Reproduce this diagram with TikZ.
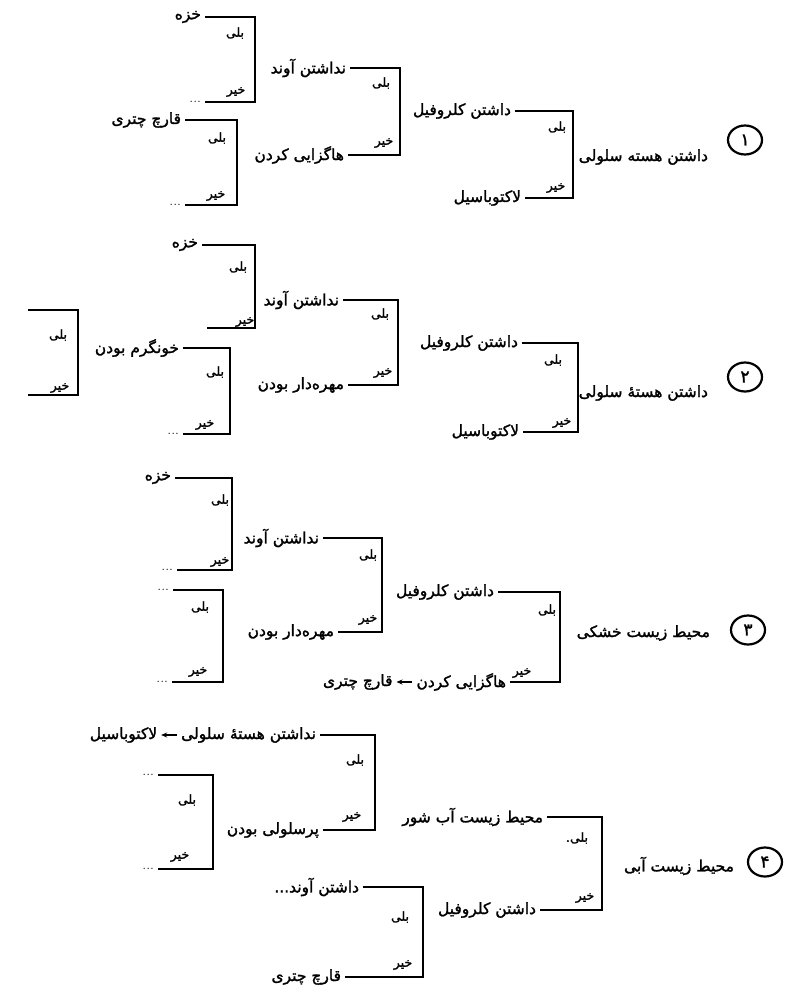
\documentclass[tikz,border=0pt]{standalone}
\usepackage{fontspec}
\TeXXeTstate=1
\newfontfamily\arabicfont[Script=Arabic,FakeBold=1.6]{DejaVu Sans}
\usetikzlibrary{shapes.geometric,arrows.meta}
\newcommand{\prs}[1]{{\arabicfont\beginR #1\endR}}
\tikzset{
 br/.style={line width=2.2pt},
 lbl/.style={font=\fontsize{15.5}{17}\selectfont, inner sep=1pt, outer sep=3pt, anchor=east},
 yn/.style={font=\fontsize{12.5}{14}\selectfont, inner sep=0pt},
 num/.style={draw, ellipse, line width=2.2pt, minimum width=34pt, minimum height=29pt, inner sep=0pt, font=\fontsize{17}{19}\selectfont},
 arr/.style={line width=1.8pt, -{Stealth[length=6pt,width=5pt]}},
}
\begin{document}
\begin{tikzpicture}[x=1pt,y=-1pt]
\fill[white] (0,0) rectangle (797,985);
\useasboundingbox (0,0) rectangle (797,985);

% ================= Diagram 1
\node[num] (c1) at (745,140) {\prs{۱}};
\node[lbl] (r1) at (712,157) {\prs{داشتن هسته سلولی}};
\coordinate (A1) at (573,150);
\node[lbl] (kl1) at (515,111) {\prs{داشتن کلروفیل}};
\node[lbl] (lak1) at (525,198) {\prs{لاکتوباسیل}};
\draw[br] (kl1.east) -| (A1) |- (lak1.east);
\node[yn] at (557,127) {\prs{بلی}};
\node[yn] at (556,188) {\prs{خیر}};

\coordinate (B1) at (400,110);
\node[lbl] (na1) at (350,68) {\prs{نداشتن آوند}};
\node[lbl] (hag1) at (348,155) {\prs{هاگزایی کردن}};
\draw[br] (na1.east) -| (B1) |- (hag1.east);
\node[yn] at (381,83) {\prs{بلی}};
\node[yn] at (384,143) {\prs{خیر}};

\coordinate (C1) at (255,60);
\node[lbl] (kh1) at (205,17) {\prs{خزه}};
\node[lbl] (d1a) at (205,102) {...};
\draw[br] (kh1.east) -| (C1) |- (d1a.east);
\node[yn] at (235,33) {\prs{بلی}};
\node[yn] at (236,92) {\prs{خیر}};

\coordinate (D1) at (237,160);
\node[lbl] (qa1) at (185,120) {\prs{قارچ چتری}};
\node[lbl] (d1b) at (185,205) {...};
\draw[br] (qa1.east) -| (D1) |- (d1b.east);
\node[yn] at (217,138) {\prs{بلی}};
\node[yn] at (216,196) {\prs{خیر}};

% ================= Diagram 2
\node[num] (c2) at (745,377) {\prs{۲}};
\node[lbl] (r2) at (712,393) {\prs{داشتن هستهٔ سلولی}};
\coordinate (A2) at (578,390);
\node[lbl] (kl2) at (522,343) {\prs{داشتن کلروفیل}};
\node[lbl] (lak2) at (523,432) {\prs{لاکتوباسیل}};
\draw[br] (kl2.east) -| (A2) |- (lak2.east);
\node[yn] at (553,360) {\prs{بلی}};
\node[yn] at (562,423) {\prs{خیر}};

\coordinate (B2) at (398,340);
\node[lbl] (na2) at (343,300) {\prs{نداشتن آوند}};
\node[lbl] (meh2) at (348,385) {\prs{مهره‌دار بودن}};
\draw[br] (na2.east) -| (B2) |- (meh2.east);
\node[yn] at (380,314) {\prs{بلی}};
\node[yn] at (383,373) {\prs{خیر}};

\coordinate (C2) at (255,290);
\node[lbl] (kh2) at (202,245) {\prs{خزه}};
\coordinate (c2b) at (207,328);
\draw[br] (kh2.east) -| (C2) |- (c2b);
\node[yn] at (238,267) {\prs{بلی}};
\node[yn] at (245,322) {\prs{خیر}};

\coordinate (D2) at (230,390);
\node[lbl] (kg2) at (183,348) {\prs{خونگرم بودن}};
\node[lbl] (d2) at (183,434) {...};
\draw[br] (kg2.east) -| (D2) |- (d2.east);
\node[yn] at (215,372) {\prs{بلی}};
\node[yn] at (205,425) {\prs{خیر}};

\coordinate (E2t) at (28,310);
\coordinate (E2b) at (28,395);
\coordinate (E2) at (78,350);
\draw[br] (E2t) -| (E2) |- (E2b);
\node[yn] at (58,335) {\prs{بلی}};
\node[yn] at (60,388) {\prs{خیر}};

% ================= Diagram 3
\node[num] (c3) at (748,630) {\prs{۳}};
\node[lbl] (r3) at (714,633) {\prs{محیط زیست خشکی}};
\coordinate (A3) at (560,630);
\node[lbl] (kl3) at (498,592) {\prs{داشتن کلروفیل}};
\node[lbl] (hag3) at (510,682) {\prs{هاگزایی کردن}};
\node[lbl] (qa3) at ([xshift=-16pt]hag3.west) {\prs{قارچ چتری}};
\draw[br] (kl3.east) -| (A3) |- (hag3.east);
\draw[arr] (hag3.west) -- (qa3.east);
\node[yn] at (547,610) {\prs{بلی}};
\node[yn] at (522,673) {\prs{خیر}};

\coordinate (B3) at (382,585);
\node[lbl] (na3) at (323,538) {\prs{نداشتن آوند}};
\node[lbl] (meh3) at (338,632) {\prs{مهره‌دار بودن}};
\draw[br] (na3.east) -| (B3) |- (meh3.east);
\node[yn] at (368,555) {\prs{بلی}};
\node[yn] at (368,620) {\prs{خیر}};

\coordinate (C3) at (232,520);
\node[lbl] (kh3) at (175,478) {\prs{خزه}};
\node[lbl] (d3a) at (177,570) {...};
\draw[br] (kh3.east) -| (C3) |- (d3a.east);
\node[yn] at (220,500) {\prs{بلی}};
\node[yn] at (220,562) {\prs{خیر}};

\coordinate (D3) at (223,630);
\node[lbl] (d3b) at (173,590) {...};
\node[lbl] (d3c) at (172,682) {...};
\draw[br] (d3b.east) -| (D3) |- (d3c.east);
\node[yn] at (200,607) {\prs{بلی}};
\node[yn] at (198,672) {\prs{خیر}};

% ================= Diagram 4
\node[num] (c4) at (765,862) {\prs{۴}};
\node[lbl] (r4) at (738,866) {\prs{محیط زیست آبی}};
\coordinate (A4) at (602,860);
\node[lbl] (ash4) at (547,817) {\prs{محیط زیست آب شور}};
\node[lbl] (kl4) at (540,910) {\prs{داشتن کلروفیل}};
\draw[br] (ash4.east) -| (A4) |- (kl4.east);
\node[yn] at (577,838) {\prs{بلی.}};
\node[yn] at (585,898) {\prs{خیر}};

\coordinate (C4) at (375,780);
\node[lbl] (nh4) at (320,735) {\prs{نداشتن هستهٔ سلولی}};
\node[lbl] (lak4) at ([xshift=-16pt]nh4.west) {\prs{لاکتوباسیل}};
\node[lbl] (pr4) at (323,830) {\prs{پرسلولی بودن}};
\draw[br] (nh4.east) -| (C4) |- (pr4.east);
\draw[arr] (nh4.west) -- (lak4.east);
\node[yn] at (355,760) {\prs{بلی}};
\node[yn] at (352,817) {\prs{خیر}};

\coordinate (D4) at (213,820);
\node[lbl] (d4a) at (158,775) {...};
\node[lbl] (d4b) at (158,869) {...};
\draw[br] (d4a.east) -| (D4) |- (d4b.east);
\node[yn] at (187,800) {\prs{بلی}};
\node[yn] at (180,857) {\prs{خیر}};

\coordinate (B4) at (423,930);
\node[lbl] (av4) at (363,887) {\prs{داشتن آوند...}};
\node[lbl] (qa4) at (345,977) {\prs{قارچ چتری}};
\draw[br] (av4.east) -| (B4) |- (qa4.east);
\node[yn] at (400,917) {\prs{بلی}};
\node[yn] at (403,965) {\prs{خیر}};
\end{tikzpicture}
\end{document}
